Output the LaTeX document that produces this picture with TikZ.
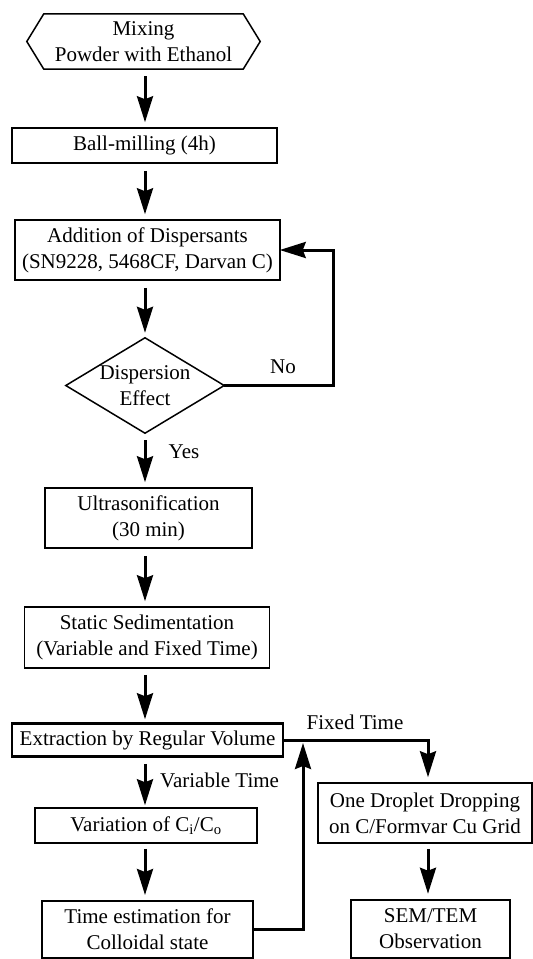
\documentclass[tikz,border=0pt]{standalone}
\usepackage{fontspec}
\setmainfont{Liberation Serif}
\usetikzlibrary{arrows.meta}
\begin{document}
\begin{tikzpicture}[x=1pt,y=-1pt,
  every node/.style={font=\fontsize{21}{26}\selectfont, align=center, inner sep=0pt},
  box/.style={draw, line width=1.5pt, minimum width=#1},
  boxh/.style={minimum height=#1},
  thickbox/.style={line width=2.5pt},
  arr/.style={line width=3pt, -{Stealth[length=26pt, width=16pt, inset=3pt]}},
  vgap/.style={shorten <=7pt, shorten >=5pt},
  lbl/.style={}]
\useasboundingbox (0,0) rectangle (533,959);
\coordinate (X) at (145,0);
\coordinate (noc) at (333,0);
\coordinate (fx) at (428,0);
\coordinate (fb) at (303,741);

% nodes
\node (mix) [minimum width=199pt, minimum height=55pt] at (143.5,41.5) {Mixing\\Powder with Ethanol};
\draw[line width=1.5pt, line join=miter] (mix.north west) -- (mix.north east) -- ([xshift=17pt]mix.east)
  -- (mix.south east) -- (mix.south west) -- ([xshift=-17pt]mix.west) -- cycle;
\node (ball) [box=265pt, boxh=35pt] at (144.5,145.5) {Ball-milling (4h)};
\node (add) [box=265pt, boxh=60pt] at (147.5,250) {Addition of Dispersants\\(SN9228, 5468CF, Darvan C)};
\node (dia) [minimum width=158pt, minimum height=95pt] at (145,385.5) {Dispersion\\Effect};
\draw[line width=1.5pt] (dia.north) -- (dia.east) -- (dia.south) -- (dia.west) -- cycle;
\node (ultra) [box=207pt, boxh=60pt] at (148.5,518) {Ultrasonification\\(30 min)};
\node (static) [box=245pt, boxh=61pt] at (147,637.5) {Static Sedimentation\\(Variable and Fixed Time)};
\node (ext) [box=271pt, boxh=33pt, thickbox] at (147.5,740) {Extraction by Regular Volume};
\node (var) [box=222pt, boxh=35pt] at (146,825.5) {Variation of C\textsubscript{i}/C\textsubscript{o}};
\node (time) [box=211pt, boxh=57pt, line width=2pt] at (147.5,929.5) {Time estimation for\\Colloidal state};
\node (drop) [box=214pt, boxh=60pt] at (425,813) {One Droplet Dropping\\on C/Formvar Cu Grid};
\node (sem) [box=159pt, boxh=58pt, thickbox] at (430.5,929) {SEM/TEM\\Observation};

% labels
\node (no) at (283,367) {No};
\node (yes) at (184,452) {Yes};
\node (vt) [anchor=west] at (160,780) {Variable Time};
\node (ft) at (355,722) {Fixed Time};

% connectors
\draw[arr, vgap] (mix.south -| X) -- (ball.north -| X);
\draw[arr, vgap] (ball.south -| X) -- (add.north -| X);
\draw[arr, vgap] (add.south -| X) -- (dia.north -| X);
\draw[arr, vgap] (dia.south -| X) -- (ultra.north -| X);
\draw[arr, vgap] (ultra.south -| X) -- (static.north -| X);
\draw[arr, shorten <=6pt, shorten >=3pt] (static.south -| X) -- (ext.north -| X);
\draw[arr, shorten <=6pt, shorten >=2pt] (ext.south -| X) -- (var.north -| X);
\draw[arr, shorten <=5pt, shorten >=5pt] (var.south -| X) -- (time.north -| X);

\draw[arr, line join=miter, shorten >=-1pt] (dia.east) -| (noc |- add.east) -- (add.east);
\draw[arr, line join=miter, shorten >=5pt] (ext.east) -| (fx |- drop.north);
\draw[arr, shorten <=5pt, shorten >=5pt] (drop.south -| fx) -- (sem.north -| fx);
\draw[arr, line join=miter, shorten >=2pt] (time.east) -| (fb);
\end{tikzpicture}
\end{document}
